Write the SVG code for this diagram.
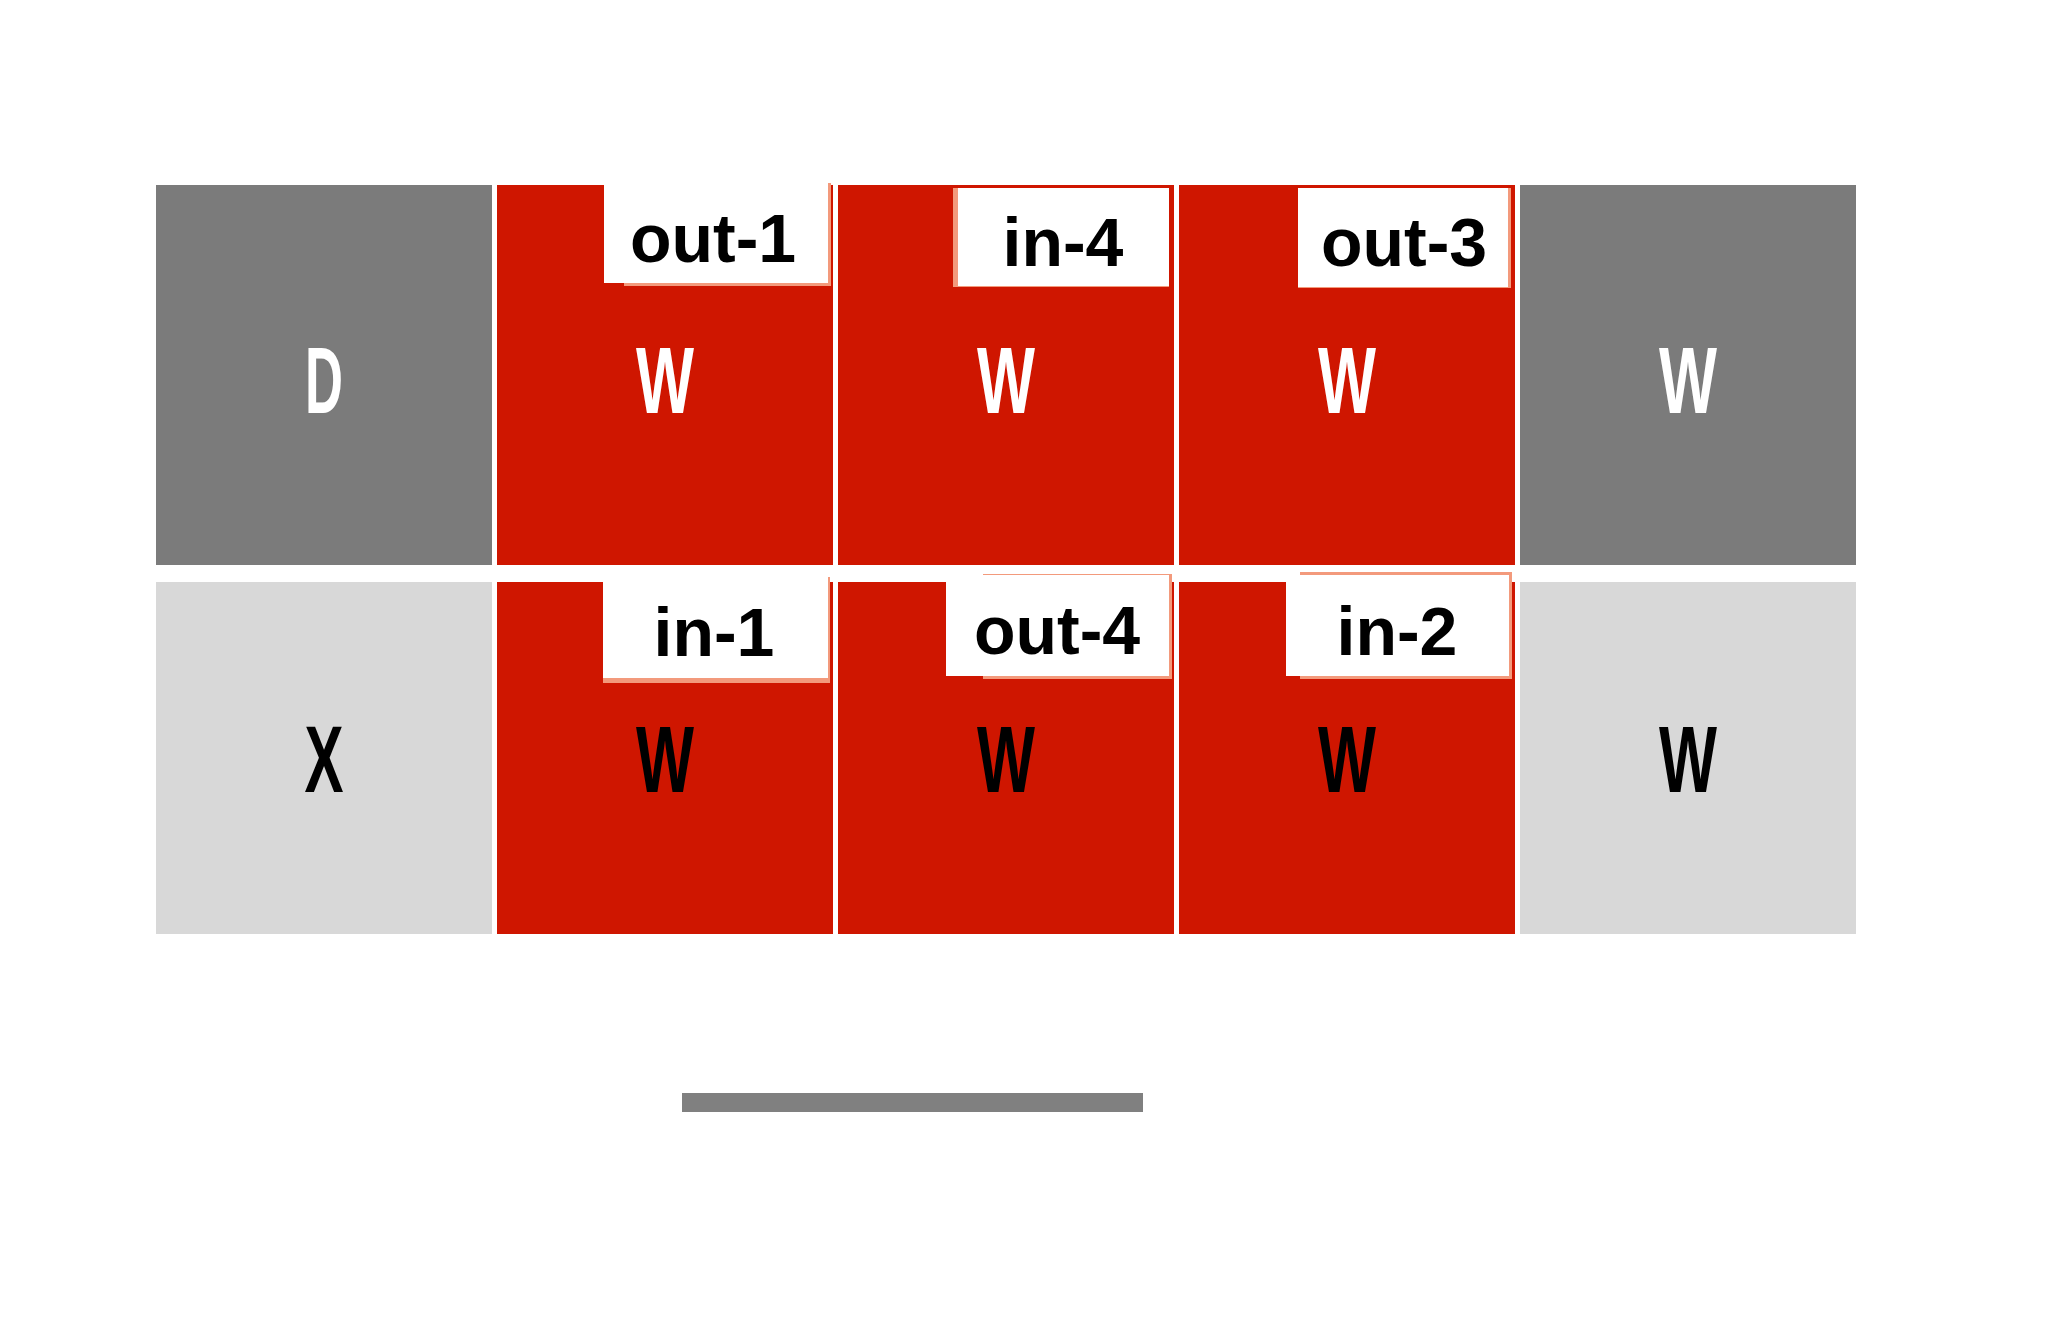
<svg xmlns="http://www.w3.org/2000/svg" width="2048" height="1339" viewBox="0 0 2048 1339">
<style>
.dark{fill:#7b7b7b}
.light{fill:#d8d8d8}
.red{fill:#cf1600}
.lbl{fill:#ffffff}
.edge{fill:#f39a7c}
.big{font-family:"Liberation Sans",Arial,sans-serif;font-weight:bold;font-size:95px;text-anchor:middle}
.wt{fill:#ffffff}
.bk{fill:#000000}
.tag{font-family:"Liberation Sans",Arial,sans-serif;font-weight:bold;font-size:68px;text-anchor:middle;fill:#000000}
</style>
<rect width="2048" height="1339" fill="#ffffff"/>
<g id="cell-D"><rect class="dark" x="156" y="185" width="336" height="380"/><text class="big wt" x="324" y="413" textLength="38" lengthAdjust="spacingAndGlyphs">D</text></g>
<g id="cell-W1"><rect class="red" x="497" y="185" width="336" height="380"/><text class="big wt" x="665" y="413" textLength="58" lengthAdjust="spacingAndGlyphs">W</text></g>
<g id="cell-W2"><rect class="red" x="838" y="185" width="336" height="380"/><text class="big wt" x="1006" y="413" textLength="58" lengthAdjust="spacingAndGlyphs">W</text></g>
<g id="cell-W3"><rect class="red" x="1179" y="185" width="336" height="380"/><text class="big wt" x="1347" y="413" textLength="58" lengthAdjust="spacingAndGlyphs">W</text></g>
<g id="cell-W4"><rect class="dark" x="1520" y="185" width="336" height="380"/><text class="big wt" x="1688" y="413" textLength="58" lengthAdjust="spacingAndGlyphs">W</text></g>
<g id="cell-X"><rect class="light" x="156" y="582" width="336" height="352"/><text class="big bk" x="324" y="792" textLength="39" lengthAdjust="spacingAndGlyphs">X</text></g>
<g id="cell-W5"><rect class="red" x="497" y="582" width="336" height="352"/><text class="big bk" x="665" y="792" textLength="58" lengthAdjust="spacingAndGlyphs">W</text></g>
<g id="cell-W6"><rect class="red" x="838" y="582" width="336" height="352"/><text class="big bk" x="1006" y="792" textLength="58" lengthAdjust="spacingAndGlyphs">W</text></g>
<g id="cell-W7"><rect class="red" x="1179" y="582" width="336" height="352"/><text class="big bk" x="1347" y="792" textLength="58" lengthAdjust="spacingAndGlyphs">W</text></g>
<g id="cell-W8"><rect class="light" x="1520" y="582" width="336" height="352"/><text class="big bk" x="1688" y="792" textLength="58" lengthAdjust="spacingAndGlyphs">W</text></g>
<g id="label-out-1"><rect class="edge" x="624" y="183" width="207" height="103"/><rect class="lbl" x="604" y="183" width="224" height="100"/><text class="tag" x="713" y="262">out-1</text></g>
<g id="label-in-4"><rect class="edge" x="953" y="188" width="216" height="99"/><rect class="lbl" x="958" y="188" width="211" height="98"/><text class="tag" x="1063" y="266">in-4</text></g>
<g id="label-out-3"><rect class="edge" x="1298" y="188" width="213" height="100"/><rect class="lbl" x="1298" y="188" width="210" height="99"/><text class="tag" x="1404" y="266">out-3</text></g>
<g id="label-in-1"><rect class="edge" x="603" y="577" width="227" height="106"/><rect class="lbl" x="603" y="577" width="225" height="101"/><text class="tag" x="714" y="656">in-1</text></g>
<g id="label-out-4"><rect class="edge" x="983" y="574" width="189" height="105"/><rect class="lbl" x="946" y="575" width="223" height="101"/><text class="tag" x="1057" y="654">out-4</text></g>
<g id="label-in-2"><rect class="edge" x="1300" y="572" width="212" height="107"/><rect class="lbl" x="1286" y="575" width="223" height="101"/><text class="tag" x="1397" y="655">in-2</text></g>
<g id="connectors"></g>
<rect id="bar" x="682" y="1093" width="461" height="19" fill="#808080"/>
</svg>
